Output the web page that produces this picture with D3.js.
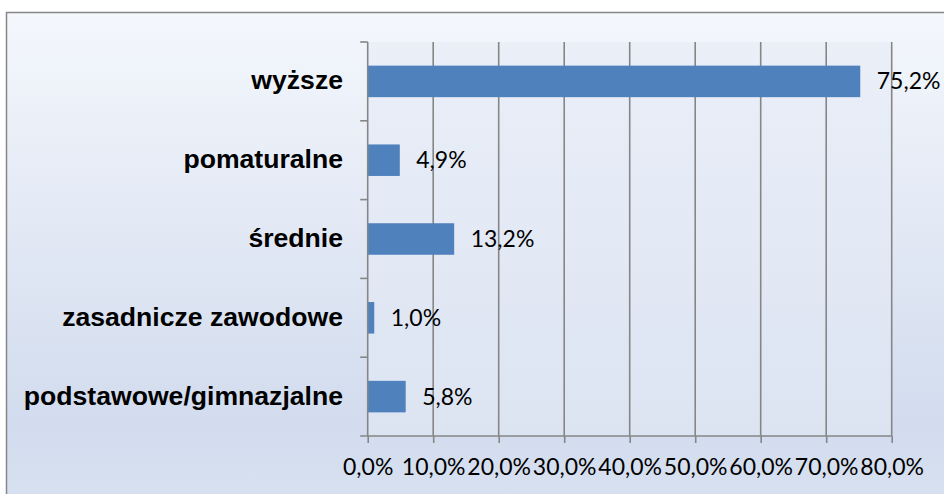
<!DOCTYPE html>
<html>
<head>
<meta charset="utf-8">
<script src="https://cdnjs.cloudflare.com/ajax/libs/d3/7.8.5/d3.min.js"></script>
<style>
  body { margin: 0; padding: 0; background: #fff; }
  svg { display: block; }
</style>
</head>
<body>
<div id="chart"></div>
<script>
'use strict';

var categories = ["wyższe", "pomaturalne", "średnie", "zasadnicze zawodowe", "podstawowe/gimnazjalne"];
var values = [75.2, 4.9, 13.2, 1.0, 5.8];
var tickValues = [0, 10, 20, 30, 40, 50, 60, 70, 80];

function fmtPct(v) {
  return v.toFixed(1).replace(".", ",") + "%";
}

function draw_chart() {
  console.log('function draw_chart()');
  var width = 944, height = 494;
  var plot = {left: 367.7, right: 891.7, top: 42, bottom: 436};

  var svg = d3.select("#chart")
              .append("svg")
              .attr("width", width)
              .attr("height", height);

  var defs = svg.append("defs");
  var bg = defs.append("linearGradient")
               .attr("id", "bgGrad")
               .attr("x1", 0).attr("y1", 0).attr("x2", 0).attr("y2", 1);
  bg.append("stop").attr("offset", "0%").attr("stop-color", "#f4f7fc");
  bg.append("stop").attr("offset", "80%").attr("stop-color", "#d2dcee");
  bg.append("stop").attr("offset", "100%").attr("stop-color", "#dae2f1");

  var pg = defs.append("linearGradient")
               .attr("id", "plotGrad")
               .attr("x1", 0).attr("y1", 0).attr("x2", 0).attr("y2", 1);
  pg.append("stop").attr("offset", "0%").attr("stop-color", "#eaeff8");
  pg.append("stop").attr("offset", "100%").attr("stop-color", "#dce4f2");

  // chart area with border (right/bottom edges fall outside the window)
  svg.append("rect")
     .attr("x", 6.5)
     .attr("y", 12.5)
     .attr("width", width + 20)
     .attr("height", height + 20)
     .attr("fill", "url(#bgGrad)")
     .attr("stroke", "#868686")
     .attr("stroke-width", 1.5);

  var x = d3.scaleLinear()
            .domain([0, 80])
            .range([plot.left, plot.right]);

  var y = d3.scaleBand()
            .domain(categories)
            .range([plot.top, plot.bottom])
            .padding(0);

  svg.append("rect")
     .attr("x", plot.left)
     .attr("y", plot.top)
     .attr("width", plot.right - plot.left)
     .attr("height", plot.bottom - plot.top)
     .attr("fill", "url(#plotGrad)");

  // vertical gridlines
  svg.append("g")
     .selectAll("line")
     .data(tickValues.slice(1))
     .enter()
     .append("line")
     .attr("x1", function(d) { return x(d); })
     .attr("x2", function(d) { return x(d); })
     .attr("y1", plot.top)
     .attr("y2", plot.bottom)
     .attr("stroke", "#868686")
     .attr("stroke-width", 1.6);

  // bars
  var barH = y.bandwidth() * 0.4;
  svg.append("g")
     .selectAll("rect")
     .data(values)
     .enter()
     .append("rect")
     .attr("x", x(0))
     .attr("y", function(d, i) { return y(categories[i]) + (y.bandwidth() - barH) / 2; })
     .attr("width", function(d) { return x(d) - x(0); })
     .attr("height", barH)
     .attr("fill", "#4f81bd");

  // data labels
  svg.append("g")
     .selectAll("text")
     .data(values)
     .enter()
     .append("text")
     .attr("x", function(d) { return x(d) + 16.5; })
     .attr("y", function(d, i) { return y(categories[i]) + y.bandwidth() / 2 + 8; })
     .attr("font-family", "Lato, 'Noto Sans', sans-serif")
     .attr("font-size", "23px")
     .attr("fill", "#000")
     .text(function(d) { return fmtPct(d); });

  // x axis
  var xAxis = d3.axisBottom(x)
                .tickValues(tickValues)
                .tickSize(7)
                .tickPadding(11)
                .tickFormat(function(d) { return fmtPct(d); });
  var gx = svg.append("g")
              .attr("transform", "translate(0," + plot.bottom + ")")
              .call(xAxis);
  gx.select(".domain").remove();
  gx.append("line")
    .attr("x1", plot.left - 7.5)
    .attr("x2", plot.right)
    .attr("y1", 0).attr("y2", 0)
    .attr("stroke", "#868686")
    .attr("stroke-width", 1.6);
  gx.selectAll(".tick line").attr("stroke", "#868686").attr("stroke-width", 1.6);
  gx.selectAll(".tick text")
    .attr("font-family", "Lato, 'Noto Sans', sans-serif")
    .attr("font-size", "23px")
    .attr("fill", "#000")
    .attr("dy", "0.9em");

  // y axis with ticks at band boundaries
  var gy = svg.append("g");
  gy.append("line")
    .attr("x1", plot.left).attr("x2", plot.left)
    .attr("y1", plot.top).attr("y2", plot.bottom)
    .attr("stroke", "#868686")
    .attr("stroke-width", 1.6);
  gy.selectAll("line.tk")
    .data(categories)
    .enter()
    .append("line")
    .attr("class", "tk")
    .attr("x1", plot.left - 7.5)
    .attr("x2", plot.left)
    .attr("y1", function(d) { return y(d); })
    .attr("y2", function(d) { return y(d); })
    .attr("stroke", "#868686")
    .attr("stroke-width", 1.6);

  gy.selectAll("text")
    .data(categories)
    .enter()
    .append("text")
    .attr("x", 343)
    .attr("y", function(d) { return y(d) + y.bandwidth() / 2; })
    .attr("dy", "0.3em")
    .attr("text-anchor", "end")
    .attr("font-family", "'Liberation Sans', Arial, sans-serif")
    .attr("font-weight", "bold")
    .attr("font-size", "26.6px")
    .attr("fill", "#000")
    .text(function(d) { return d; });
}

draw_chart();
</script>
</body>
</html>
